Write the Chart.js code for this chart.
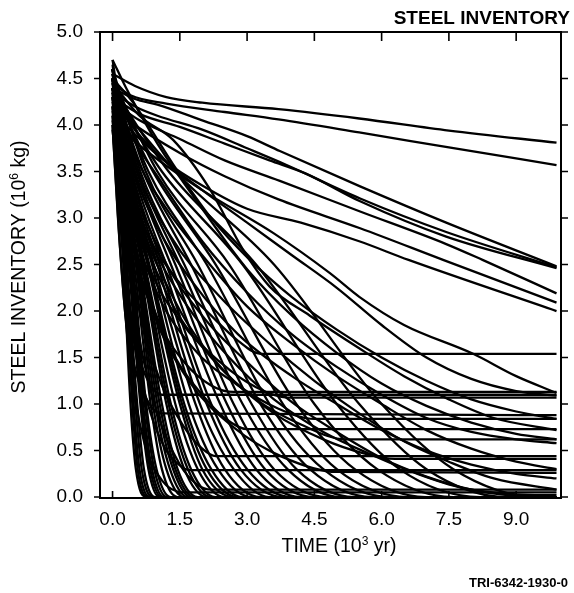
<!DOCTYPE html>
<html>
<head>
<meta charset="utf-8">
<script src="https://cdn.jsdelivr.net/npm/chart.js@4.4.1/dist/chart.umd.min.js"></script>
<style>
    html, body { margin: 0; padding: 0; background: #fff; }
</style>
</head>
<body>
<canvas id="chart" width="574" height="593"></canvas>
<script>
// tick values for both axes
const xTickValues = [0, 1.5, 3, 4.5, 6, 7.5, 9]
const yTickValues = [0, 0.5, 1, 1.5, 2, 2.5, 3, 3.5, 4, 4.5, 5]

// runs that stay high, [time (10^3 yr), inventory (10^6 kg)]
const slowRuns = [
    [[0, 4.55], [0.5, 4.42], [1.2, 4.3], [2, 4.24], [3.7, 4.17], [5.5, 4.07], [7.5, 3.94], [9.9, 3.81]],
    [[0, 4.45], [0.4, 4.32], [1.2, 4.23], [2.5, 4.14], [3.7, 4.06], [5.5, 3.92], [7.5, 3.76], [9.9, 3.57]],
    [[0, 4.4], [0.5, 4.28], [1, 4.22], [2, 4.05], [3, 3.88], [3.73, 3.72], [5.52, 3.34], [7.44, 2.95], [9.9, 2.48]],
    [[0, 4.35], [0.5, 4.2], [1, 4.1], [2, 3.95], [3, 3.75], [3.88, 3.57], [5.52, 3.21], [7.44, 2.85], [9.9, 2.47]],
    [[0, 4.3], [0.6, 4.12], [1.5, 3.98], [2.5, 3.8], [3.5, 3.62], [4.3, 3.48], [5.52, 3.18], [7.44, 2.8], [9.9, 2.46]],
    [[0, 4.25], [0.6, 4.05], [1.5, 3.85], [2.5, 3.62], [3.73, 3.4], [5.52, 3.07], [7.44, 2.72], [8.25, 2.55], [9.9, 2.19]],
    [[0, 4.2], [0.5, 4.0], [1.5, 3.7], [2.5, 3.45], [3.7, 3.2], [5.52, 2.89], [7.37, 2.55], [9.9, 2.09]],
    [[0, 4.15], [0.5, 3.9], [1.2, 3.6], [2, 3.35], [3, 3.1], [4.2, 2.95], [5.5, 2.75], [6.6, 2.55], [9.9, 2.0]],
    [[0, 4.05], [0.68, 3.75], [2, 3.3], [3.58, 2.84], [4.84, 2.41], [5.51, 2.15], [6.5, 1.85], [8.04, 1.54], [9, 1.3], [9.9, 1.12]]
]

// runs that fall through the middle of the plot
const mediumRuns = [
    [[0, 4.5], [0.46, 4.24], [1.43, 3.52], [2.2, 3.0], [3.06, 2.55], [4, 2.15], [5, 1.8], [6, 1.5], [7, 1.25], [8, 1.05], [9, 0.92], [9.9, 0.84]],
    [[0, 4.45], [0.6, 4.1], [1.35, 3.84], [2.17, 3.31], [2.91, 2.66], [3.51, 2.26], [4.4, 1.95], [5.5, 1.6], [6.5, 1.3], [7.5, 1.05], [8.5, 0.85], [9.9, 0.72]],
    [[0, 4.35], [0.4, 3.9], [1, 3.45], [2, 2.75], [3, 2.2], [4, 1.75], [5, 1.4], [6, 1.1], [7, 0.85], [8, 0.7], [9, 0.62], [9.9, 0.58]],
    [[0, 4.3], [0.5, 3.95], [1.2, 3.6], [2, 3.3], [3, 2.95], [4, 2.6], [5, 2.25], [6, 1.85], [7, 1.5], [8, 1.27], [9, 1.14], [9.9, 1.09]],
    [[0, 4.4], [0.4, 3.6], [1, 2.9], [1.8, 2.3], [2.8, 1.75], [4, 1.3], [5, 1.0], [6, 0.72], [7, 0.5], [8, 0.35], [9, 0.25], [9.9, 0.2]],
    [[0, 4.5], [0.4, 3.5], [1.1, 2.6], [2, 1.95], [3, 1.45], [4, 1.02], [5, 0.7], [6, 0.42], [7, 0.22], [8, 0.08], [8.8, 0.02], [9.9, 0]],
    [[0, 4.55], [0.4, 3.7], [1.3, 2.8], [2.4, 2.15], [3.5, 1.65], [4.5, 1.25], [5.5, 0.9], [6.5, 0.6], [7.5, 0.38], [8.5, 0.2], [9.9, 0.08]],
    [[0, 4.6], [0.5, 3.7], [1.2, 3.1], [2, 2.6], [3, 2.05], [4, 1.65], [5, 1.3], [6, 1.0], [7, 0.72], [8, 0.52], [9, 0.38], [9.9, 0.3]],
    [[0, 4.7], [0.3, 4.4], [1, 3.8], [2, 3.1], [3, 2.45], [4, 1.95], [5, 1.55], [6, 1.22], [7, 0.98], [8, 0.8], [9, 0.68], [9.9, 0.62]],
    [[0, 4.4], [0.3, 3.5], [0.8, 2.8], [1.6, 2.1], [2.6, 1.5], [3.6, 1.05], [4.7, 0.7], [5.8, 0.45], [6.8, 0.25], [7.8, 0.1], [9, 0.03], [9.9, 0.02]]
]

// runs that drop and then level off
const plateauRuns = [
    [[0, 4.4], [0.3, 3.4], [0.8, 2.8], [1.5, 2.3], [2.2, 1.95], [2.8, 1.68], [3.3, 1.54], [9.9, 1.54]],
    [[0, 4.2], [0.15, 3.3], [0.35, 2.2], [0.6, 1.5], [0.85, 1.2], [1.1, 1.1], [9.9, 1.1]],
    [[0, 4.5], [0.2, 3.5], [0.5, 2.6], [1.0, 1.9], [1.6, 1.45], [2.2, 1.2], [2.7, 1.13], [9.9, 1.13]],
    [[0, 4.4], [0.3, 3.4], [0.8, 2.5], [1.5, 1.9], [2.4, 1.45], [3.2, 1.18], [3.9, 1.07], [9.9, 1.07]],
    [[0, 4.0], [0.12, 3.0], [0.3, 1.9], [0.55, 1.3], [0.85, 0.98], [1.06, 0.9], [9.9, 0.88]],
    [[0, 4.5], [0.3, 3.3], [0.9, 2.3], [1.8, 1.6], [2.8, 1.2], [3.7, 0.95], [4.5, 0.84], [9.9, 0.84]],
    [[0, 4.3], [0.3, 3.2], [0.8, 2.2], [1.4, 1.5], [2, 1.1], [2.5, 0.85], [3, 0.73], [9.9, 0.73]],
    [[0, 4.6], [0.4, 3.3], [1.2, 2.2], [2.2, 1.5], [3.2, 1.05], [4.2, 0.78], [5.2, 0.62], [9.9, 0.62]],
    [[0, 4.3], [0.25, 3.0], [0.6, 2.0], [1.1, 1.2], [1.6, 0.75], [2.0, 0.52], [2.3, 0.44], [9.9, 0.44]],
    [[0, 4.5], [0.5, 3.2], [1.4, 2.1], [2.5, 1.35], [3.6, 0.9], [4.7, 0.62], [5.6, 0.47], [6.3, 0.41], [9.9, 0.41]],
    [[0, 4.1], [0.2, 2.8], [0.5, 1.6], [0.85, 0.9], [1.2, 0.5], [1.5, 0.34], [1.7, 0.29], [9.9, 0.29]],
    [[0, 4.4], [0.35, 3.0], [0.9, 2.0], [1.7, 1.25], [2.7, 0.75], [3.8, 0.43], [5, 0.27], [9.9, 0.26]],
    [[0, 4.2], [0.25, 2.9], [0.6, 1.7], [1.0, 0.9], [1.5, 0.35], [1.9, 0.13], [2.2, 0.08], [9.9, 0.08]],
    [[0, 4.0], [0.15, 2.8], [0.4, 1.4], [0.7, 0.6], [1.1, 0.18], [1.6, 0.05], [9.9, 0.05]]
]

// runs that empty quickly
const fastRuns = [
    [[0, 3.95], [0.09, 3.5], [0.24, 2.5], [0.40, 1.0], [0.52, 0.3], [0.75, 0], [9.9, 0]],
    [[0, 4.05], [0.10, 3.5], [0.26, 2.5], [0.44, 1.0], [0.56, 0.3], [0.80, 0], [9.9, 0]],
    [[0, 4.10], [0.11, 3.5], [0.28, 2.5], [0.47, 1.0], [0.60, 0.3], [0.85, 0], [9.9, 0]],
    [[0, 4.15], [0.12, 3.5], [0.30, 2.5], [0.51, 1.0], [0.65, 0.3], [0.90, 0], [9.9, 0]],
    [[0, 4.20], [0.13, 3.5], [0.32, 2.5], [0.55, 1.0], [0.70, 0.3], [0.95, 0], [9.9, 0]],
    [[0, 4.30], [0.14, 3.5], [0.36, 2.5], [0.62, 1.0], [0.80, 0.3], [1.05, 0], [9.9, 0]],
    [[0, 4.35], [0.15, 3.5], [0.38, 2.5], [0.65, 1.0], [0.84, 0.3], [1.10, 0], [9.9, 0]],
    [[0, 4.25], [0.16, 3.5], [0.40, 2.5], [0.68, 1.0], [0.88, 0.3], [1.15, 0], [9.9, 0]],
    [[0, 4.30], [0.17, 3.5], [0.42, 2.5], [0.72, 1.0], [0.93, 0.3], [1.22, 0], [9.9, 0]],
    [[0, 4.40], [0.18, 3.5], [0.45, 2.5], [0.75, 1.0], [0.98, 0.3], [1.30, 0], [9.9, 0]],
    [[0, 4.35], [0.19, 3.5], [0.48, 2.5], [0.85, 1.0], [1.10, 0.3], [1.45, 0], [9.9, 0]],
    [[0, 4.50], [0.20, 3.5], [0.52, 2.5], [0.90, 1.0], [1.20, 0.3], [1.60, 0], [9.9, 0]],
    [[0, 4.50], [0.21, 3.5], [0.54, 2.5], [0.95, 1.0], [1.28, 0.3], [1.68, 0], [9.9, 0]],
    [[0, 4.45], [0.22, 3.5], [0.56, 2.5], [1.00, 1.0], [1.35, 0.3], [1.75, 0], [9.9, 0]],
    [[0, 4.40], [0.23, 3.5], [0.58, 2.5], [1.05, 1.0], [1.40, 0.3], [1.82, 0], [9.9, 0]],
    [[0, 4.60], [0.24, 3.5], [0.60, 2.5], [1.10, 1.0], [1.45, 0.3], [1.90, 0], [9.9, 0]],
    [[0, 4.50], [0.25, 3.5], [0.65, 2.5], [1.20, 1.0], [1.60, 0.3], [2.10, 0], [9.9, 0]],
    [[0, 4.60], [0.26, 3.5], [0.67, 2.5], [1.25, 1.0], [1.68, 0.3], [2.20, 0], [9.9, 0]],
    [[0, 4.55], [0.27, 3.5], [0.70, 2.5], [1.30, 1.0], [1.75, 0.3], [2.30, 0], [9.9, 0]],
    [[0, 4.40], [0.28, 3.5], [0.72, 2.5], [1.40, 1.0], [1.90, 0.3], [2.50, 0], [9.9, 0]],
    [[0, 4.65], [0.30, 3.5], [0.78, 2.5], [1.50, 1.0], [2.00, 0.3], [2.70, 0], [9.9, 0]],
    [[0, 4.50], [0.31, 3.5], [0.80, 2.5], [1.55, 1.0], [2.10, 0.3], [2.80, 0], [9.9, 0]],
    [[0, 4.50], [0.32, 3.5], [0.82, 2.5], [1.60, 1.0], [2.20, 0.3], [2.90, 0], [9.9, 0]],
    [[0, 4.60], [0.34, 3.5], [0.88, 2.5], [1.70, 1.0], [2.35, 0.3], [3.10, 0], [9.9, 0]],
    [[0, 4.45], [0.36, 3.5], [0.92, 2.5], [1.85, 1.0], [2.50, 0.3], [3.30, 0], [9.9, 0]],
    [[0, 4.70], [0.38, 3.5], [1.00, 2.5], [1.95, 1.0], [2.70, 0.3], [3.50, 0], [9.9, 0]],
    [[0, 4.55], [0.40, 3.5], [1.05, 2.5], [2.10, 1.0], [2.85, 0.3], [3.80, 0], [9.9, 0]],
    [[0, 4.60], [0.43, 3.5], [1.12, 2.5], [2.20, 1.0], [3.00, 0.3], [4.00, 0], [9.9, 0]],
    [[0, 4.50], [0.46, 3.5], [1.20, 2.5], [2.40, 1.0], [3.20, 0.3], [4.20, 0], [9.9, 0]],
    [[0, 4.40], [0.50, 3.5], [1.30, 2.5], [2.55, 1.0], [3.40, 0.3], [4.50, 0], [9.9, 0]],
    [[0, 4.60], [0.54, 3.5], [1.40, 2.5], [2.70, 1.0], [3.60, 0.3], [4.80, 0], [9.9, 0]],
    [[0, 4.50], [0.58, 3.5], [1.50, 2.5], [2.90, 1.0], [3.90, 0.3], [5.10, 0], [9.9, 0]],
    [[0, 4.55], [0.62, 3.5], [1.60, 2.5], [3.10, 1.0], [4.10, 0.3], [5.40, 0], [9.9, 0]],
    [[0, 4.45], [0.68, 3.5], [1.75, 2.5], [3.30, 1.0], [4.40, 0.3], [5.80, 0], [9.9, 0]],
    [[0, 4.60], [0.74, 3.5], [1.90, 2.5], [3.50, 1.0], [4.70, 0.3], [6.20, 0], [9.9, 0]],
    [[0, 4.50], [0.80, 3.5], [2.10, 2.5], [3.80, 1.0], [5.00, 0.3], [6.60, 0], [9.9, 0]],
    [[0, 4.40], [0.90, 3.5], [2.30, 2.5], [4.10, 1.0], [5.40, 0.3], [7.00, 0], [9.9, 0]],
    [[0, 4.50], [1.00, 3.5], [2.60, 2.5], [4.50, 1.0], [5.90, 0.3], [7.60, 0], [9.9, 0]],
    [[0, 4.35], [1.10, 3.5], [2.90, 2.5], [5.00, 1.0], [6.40, 0.3], [8.20, 0], [9.9, 0]],
    [[0, 4.40], [1.25, 3.5], [3.20, 2.5], [5.50, 1.0], [7.00, 0.3], [8.80, 0], [9.9, 0]],
    [[0, 4.30], [1.40, 3.5], [3.60, 2.5], [6.00, 1.0], [7.60, 0.3], [9.50, 0], [9.9, 0]]
]

const FONT = '"Liberation Sans", Arial, Helvetica, sans-serif'
Chart.defaults.font.family = FONT
Chart.defaults.color = '#000'

const allRuns = slowRuns.concat(mediumRuns, plateauRuns, fastRuns)
const datasets = allRuns.map(run => ({
    data: run.map(p => ({ x: p[0], y: p[1] })),
    borderColor: '#000',
    borderWidth: 2.3,
    pointRadius: 0,
    fill: false,
    cubicInterpolationMode: 'monotone'
}))

// draws text with a superscript part, starting at x
function drawSup(ctx, parts, x, y, size) {
    parts.forEach(part => {
        const sup = part[1]
        ctx.font = (sup ? size * 0.62 : size) + 'px ' + FONT
        ctx.fillText(part[0], x, sup ? y - size * 0.38 : y)
        x += ctx.measureText(part[0]).width
    })
}
function supWidth(ctx, parts, size) {
    let w = 0
    parts.forEach(part => {
        ctx.font = (part[1] ? size * 0.62 : size) + 'px ' + FONT
        w += ctx.measureText(part[0]).width
    })
    return w
}

const frameAndText = {
    id: 'frameAndText',
    afterDraw(chart) {
        const ctx = chart.ctx
        const a = chart.chartArea
        const xs = chart.scales.x
        const ys = chart.scales.y
        ctx.save()
        ctx.strokeStyle = '#000'
        ctx.lineWidth = 2
        ctx.strokeRect(a.left, a.top, a.right - a.left, a.bottom - a.top)

        // x ticks point inward, y ticks point outward
        ctx.lineWidth = 1.6
        ctx.beginPath()
        xTickValues.forEach(v => {
            const px = xs.getPixelForValue(v)
            ctx.moveTo(px, a.top)
            ctx.lineTo(px, a.top + 9)
            ctx.moveTo(px, a.bottom)
            ctx.lineTo(px, a.bottom - 7)
        })
        yTickValues.forEach(v => {
            const py = ys.getPixelForValue(v)
            ctx.moveTo(a.left, py)
            ctx.lineTo(a.left - 6, py)
            ctx.moveTo(a.right, py)
            ctx.lineTo(a.right + 7, py)
        })
        ctx.stroke()

        ctx.fillStyle = '#000'
        ctx.textBaseline = 'alphabetic'

        // title top right
        ctx.font = 'bold 19px ' + FONT
        ctx.textAlign = 'right'
        ctx.fillText('STEEL INVENTORY', 570, 24)

        // figure number
        ctx.font = 'bold 13px ' + FONT
        ctx.fillText('TRI-6342-1930-0', 568, 587)

        ctx.textAlign = 'left'
        // x axis title
        const xParts = [['TIME (10', false], ['3', true], [' yr)', false]]
        const xw = supWidth(ctx, xParts, 19.5)
        drawSup(ctx, xParts, 339 - xw / 2, 552, 19.5)

        // y axis title
        const yParts = [['STEEL INVENTORY (10', false], ['6', true], [' kg)', false]]
        const yw = supWidth(ctx, yParts, 19.5)
        ctx.translate(25, 267)
        ctx.rotate(-Math.PI / 2)
        drawSup(ctx, yParts, -yw / 2, 0, 19.5)
        ctx.restore()
    }
}

new Chart(document.getElementById('chart').getContext('2d'), {
    type: 'line',
    data: { datasets: datasets },
    options: {
        responsive: false,
        devicePixelRatio: 1,
        animation: false,
        events: [],
        layout: { padding: { left: 0, top: 32, right: 13, bottom: 0 } },
        plugins: { legend: { display: false }, tooltip: { enabled: false } },
        scales: {
            x: {
                type: 'linear',
                min: -0.28,
                max: 10,
                afterBuildTicks: s => { s.ticks = xTickValues.map(v => ({ value: v })) },
                afterFit: s => { s.height = 95 },
                ticks: {
                    callback: v => v.toFixed(1),
                    font: { size: 19 },
                    padding: 10,
                    maxRotation: 0,
                    autoSkip: false
                },
                grid: { display: false, drawTicks: false },
                border: { display: false }
            },
            y: {
                type: 'linear',
                min: -0.01,
                max: 5,
                afterBuildTicks: s => { s.ticks = yTickValues.map(v => ({ value: v })) },
                afterFit: s => { s.width = 100 },
                ticks: {
                    callback: v => v.toFixed(1),
                    font: { size: 19 },
                    padding: 17,
                    autoSkip: false
                },
                grid: { display: false, drawTicks: false },
                border: { display: false }
            }
        }
    },
    plugins: [frameAndText]
})
</script>
</body>
</html>
